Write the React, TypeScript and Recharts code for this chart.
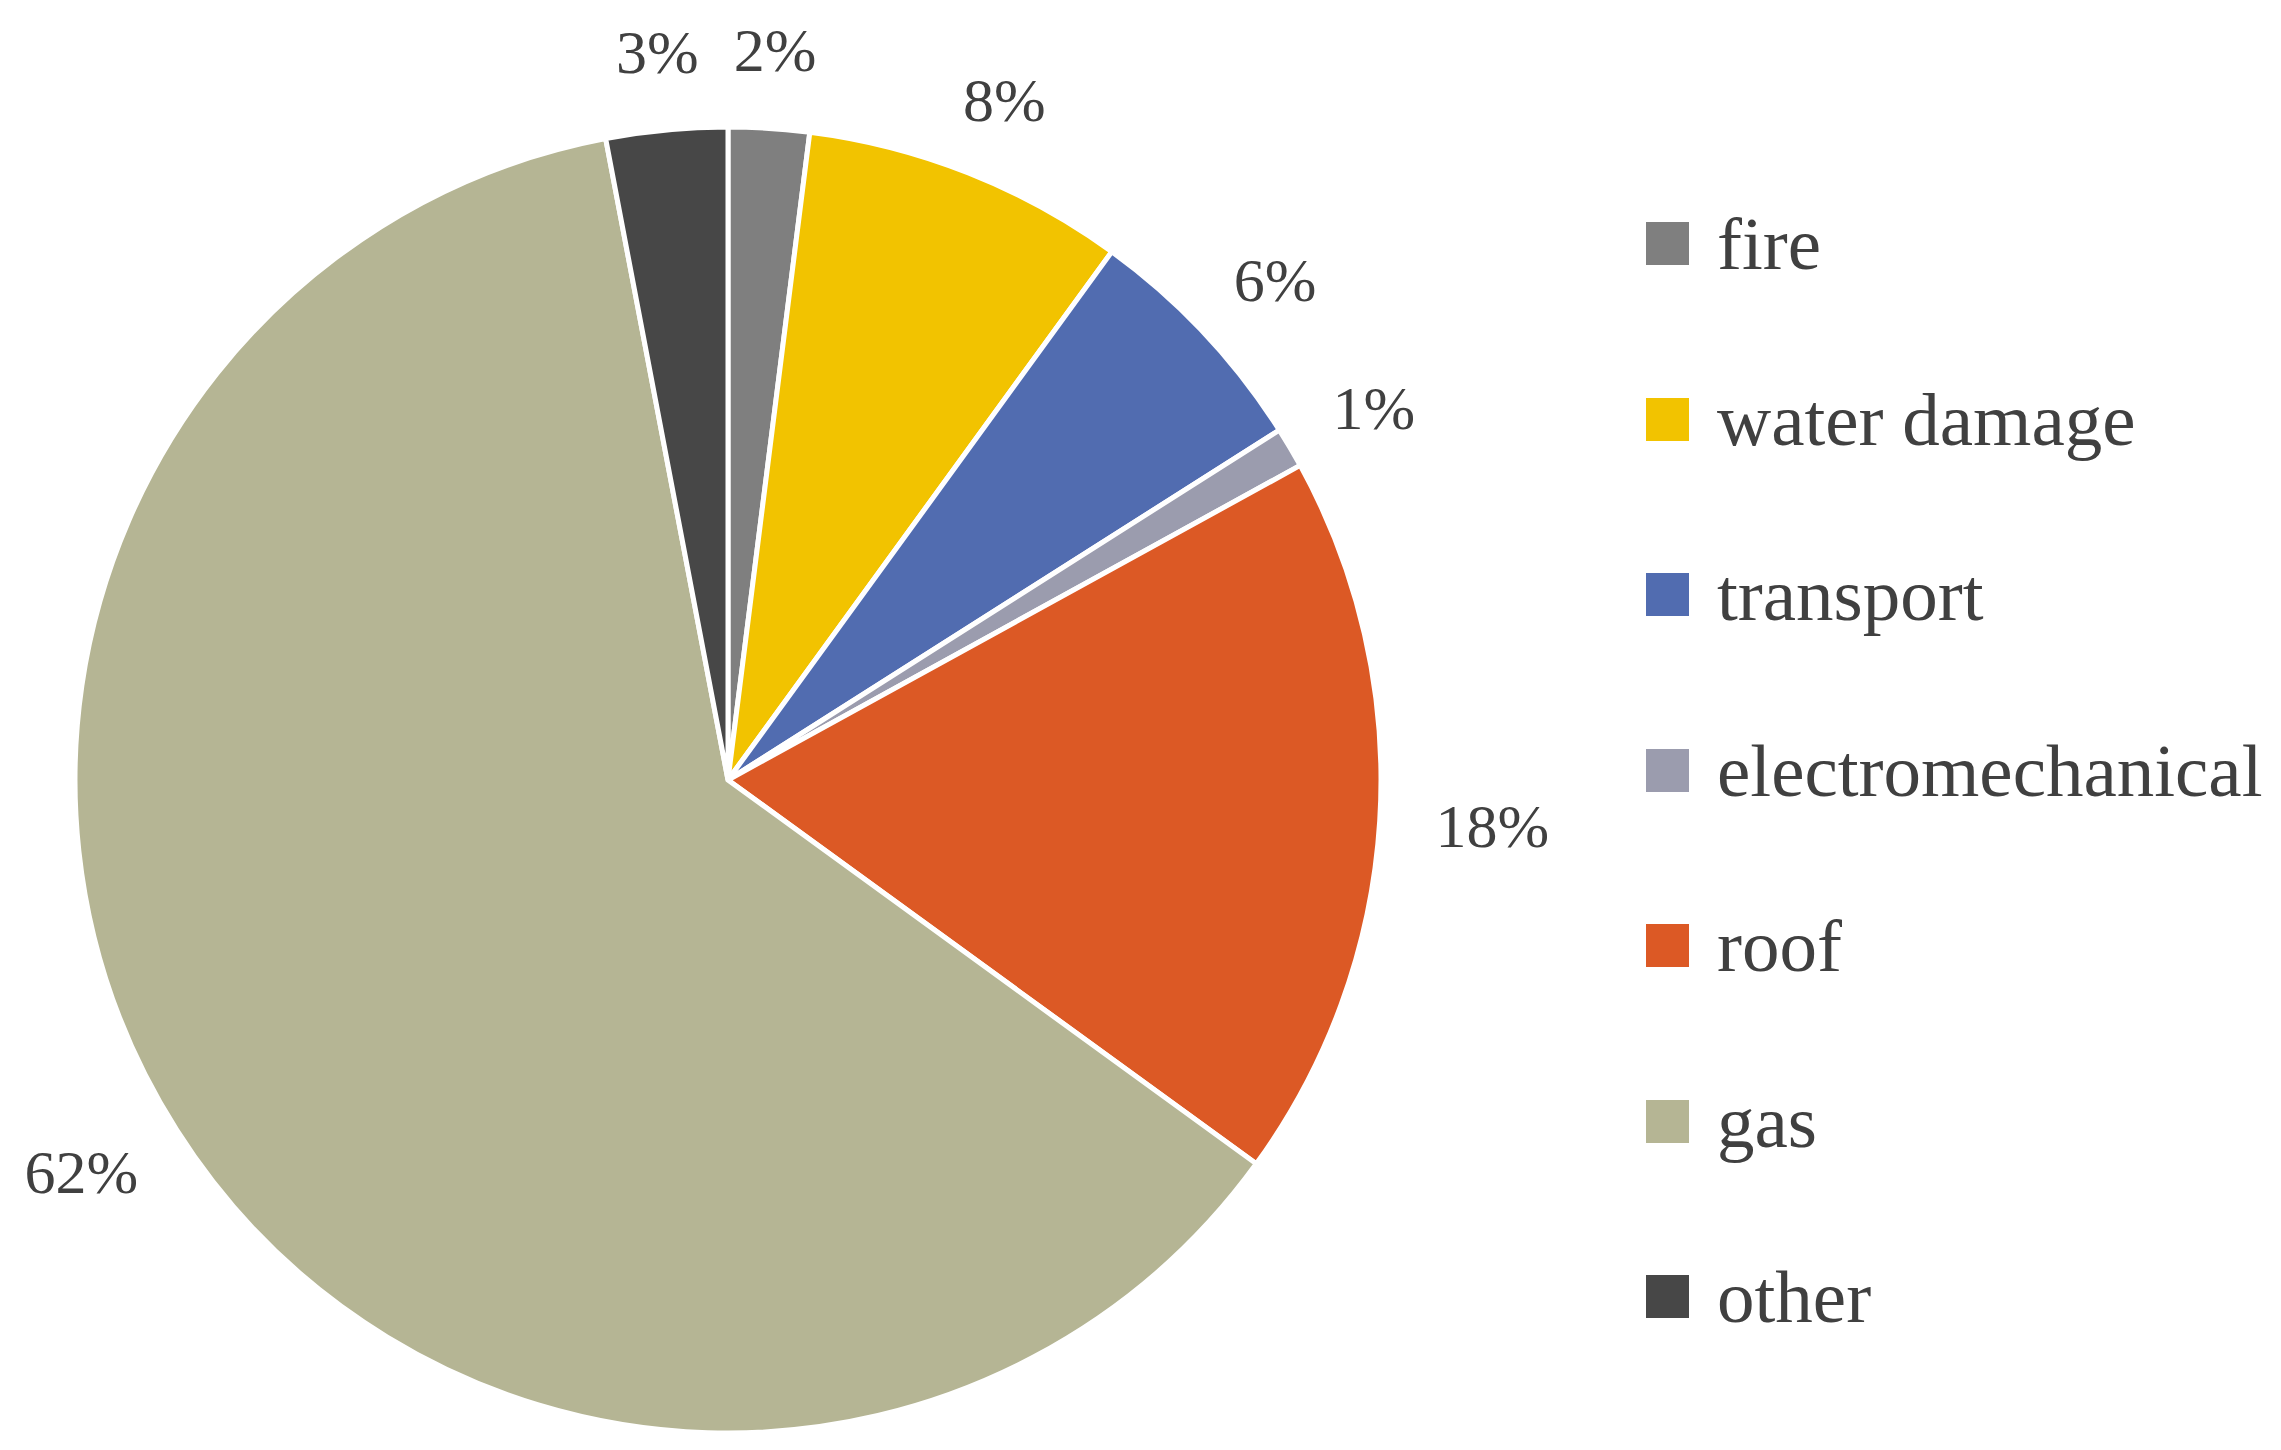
import { PieChart, Pie, Cell, Legend } from 'recharts';

const CATEGORIES = ['fire', 'water damage', 'transport', 'electromechanical', 'roof', 'gas', 'other'];
const SHARES = [2, 8, 6, 1, 18, 62, 3];
const COLORS = ['#7f7f7f', '#f2c300', '#516cb0', '#9b9cae', '#dc5925', '#b5b594', '#474747'];

const chartData = CATEGORIES.map((name, i) => ({ name, value: SHARES[i] }));

const TEXT_COLOR = '#404040';
const FONT = '"Liberation Serif", "Times New Roman", serif';
const LABEL_SIZE = 62;
const RAD = Math.PI / 180;

// rough Times widths, so labels sit just outside the rim like Excel does
function textWidth(s: string) {
  let w = 0;
  for (const ch of s) w += ch === '%' ? 0.833 : 0.5;
  return w * LABEL_SIZE;
}

function renderLabel(props: any) {
  const { cx, cy, midAngle, outerRadius, value } = props;
  const text = `${value}%`;
  const c = Math.cos(-midAngle * RAD);
  const s = Math.sin(-midAngle * RAD);
  const r = outerRadius + 56;
  const x = cx + r * c + c * (textWidth(text) / 2);
  const y = cy + r * s + s * 22;
  return (
    <text
      x={x}
      y={y}
      textAnchor="middle"
      dominantBaseline="central"
      fill={TEXT_COLOR}
      fontSize={LABEL_SIZE}
      fontFamily={FONT}
    >
      {text}
    </text>
  );
}

// legend keeps the data order (recharts 3 sorts the payload by name otherwise)
function LegendContent() {
  return (
    <div>
      {CATEGORIES.map((name, i) => (
        <div key={name} style={{ display: 'flex', alignItems: 'center', height: 175.5 }}>
          <div style={{ width: 43, height: 43, backgroundColor: COLORS[i], marginRight: 28 }} />
          <span style={{ fontSize: 75, fontFamily: FONT, color: TEXT_COLOR, lineHeight: 1 }}>{name}</span>
        </div>
      ))}
    </div>
  );
}

export default function App() {
  return (
    <div style={{ position: 'absolute', left: 0, top: 0, width: 2281, height: 1450, background: '#ffffff' }}>
      <PieChart width={2281} height={1450} margin={{ top: 0, right: 0, bottom: 0, left: 0 }}>
        <Pie
          data={chartData}
          dataKey="value"
          nameKey="name"
          cx={728}
          cy={780}
          outerRadius={653}
          startAngle={90}
          endAngle={-270}
          stroke="#ffffff"
          strokeWidth={5}
          label={renderLabel}
          labelLine={false}
          isAnimationActive={false}
        >
          {chartData.map((d, i) => (
            <Cell key={d.name} fill={COLORS[i]} />
          ))}
        </Pie>
        <Legend
          layout="vertical"
          content={<LegendContent />}
          wrapperStyle={{ left: 1646, top: 156, width: 635 }}
        />
      </PieChart>
    </div>
  );
}
